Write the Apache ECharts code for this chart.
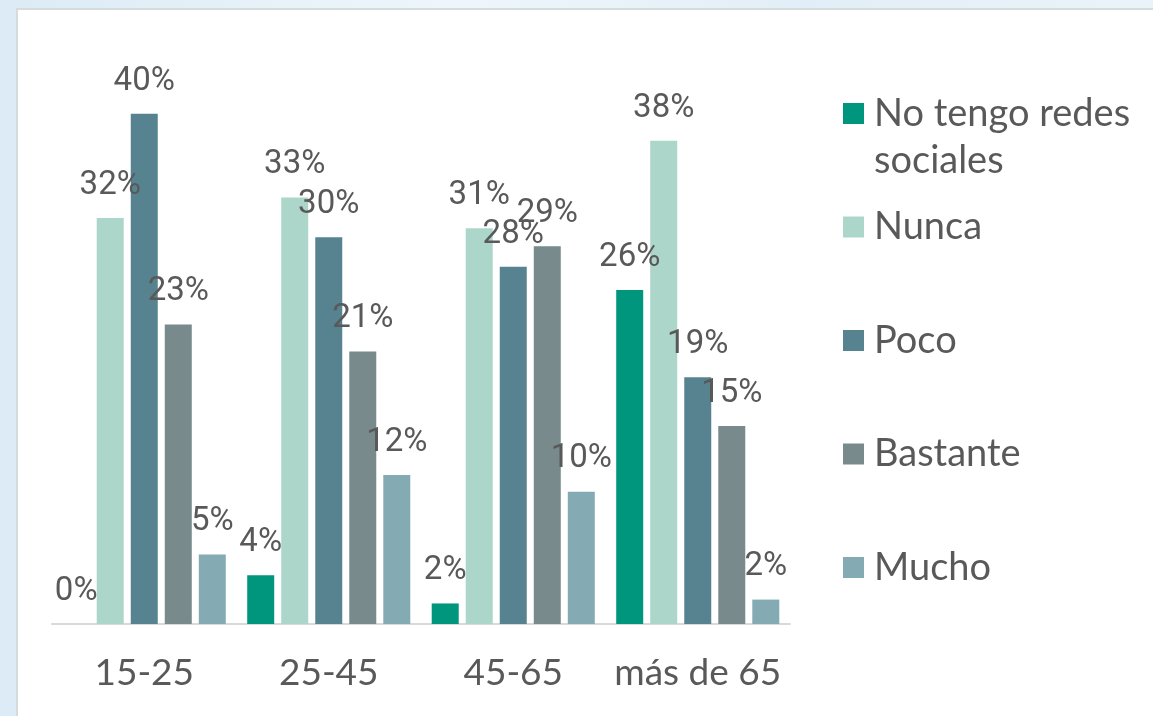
<!DOCTYPE html>
<html>
<head>
<meta charset="utf-8">
<script src="https://cdn.jsdelivr.net/npm/echarts@6/dist/echarts.min.js"></script>
<style>
  html, body { margin: 0; padding: 0; }
  body {
    width: 1153px; height: 716px; overflow: hidden; position: relative;
    background: linear-gradient(90deg, #dcebf5 0%, #eef6fb 40%, #e2eef7 70%, #eaf3f9 100%);
  }
  .panel {
    position: absolute; left: 16px; top: 8px; right: 0; bottom: 0;
    background: #fff;
    border-left: 2px solid #d6dbde;
    border-top: 2px solid #d6dbde;
  }
  #chart { position: absolute; left: 0; top: 0; width: 1153px; height: 716px; }
</style>
</head>
<body>
<div class="panel"></div>
<div id="chart"></div>
<script>
// datos
const categories = ['15-25', '25-45', '45-65', 'más de 65']
const seriesNames = ['No tengo redes sociales', 'Nunca', 'Poco', 'Bastante', 'Mucho']
const noTengo = [0, 3.8, 1.6, 26.0]
const nunca = [31.6, 33.2, 30.8, 37.6]
const poco = [39.7, 30.1, 27.8, 19.2]
const bastante = [23.3, 21.2, 29.4, 15.4]
const mucho = [5.4, 11.6, 10.3, 1.9]

const values = [noTengo, nunca, poco, bastante, mucho]
const colors = ['#00967e', '#acd6c9', '#56838f', '#798a8c', '#84abb4']
// centro vertical de cada icono de la leyenda
const legendY = [113.5, 227, 340.5, 454, 567.5]

const chart = echarts.init(document.getElementById('chart'))

// la primera entrada lleva una linea vacia delante para que el icono quede en la primera linea
const legends = seriesNames.map((name, i) => ({
  data: [name],
  orient: 'vertical',
  left: 843,
  top: i === 0 ? legendY[i] - 70.5 : legendY[i] - 23.5,
  padding: 0,
  itemWidth: 21,
  itemHeight: 21,
  icon: 'rect',
  selectedMode: false,
  formatter: i === 0 ? ' \nNo tengo redes\nsociales' : '{name}',
  textStyle: {
    fontFamily: 'Lato',
    fontSize: 38,
    color: '#595959',
    lineHeight: 47,
    padding: [0, 0, 0, 5]
  }
}))

const series = seriesNames.map((name, i) => ({
  name: name,
  type: 'bar',
  data: values[i],
  barWidth: 27,
  barGap: '26%',
  itemStyle: { color: colors[i] },
  label: {
    show: true,
    position: 'top',
    distance: 16,
    fontFamily: 'Roboto',
    fontSize: 33,
    color: '#595959',
    formatter: p => Math.round(p.value) + '%'
  }
}))

chart.setOption({
  animation: false,
  color: colors,
  legend: legends,
  grid: { left: 52, right: 363, top: 110, bottom: 92 },
  xAxis: {
    type: 'category',
    data: categories,
    axisTick: { show: false },
    axisLine: { lineStyle: { color: '#d9d9d9', width: 2 } },
    axisLabel: {
      interval: 0,
      margin: 31,
      fontFamily: 'Lato',
      fontSize: 37,
      color: '#595959'
    }
  },
  yAxis: {
    type: 'value',
    min: 0,
    max: 40,
    show: false,
    splitLine: { show: false }
  },
  series: series
})
</script>
</body>
</html>
